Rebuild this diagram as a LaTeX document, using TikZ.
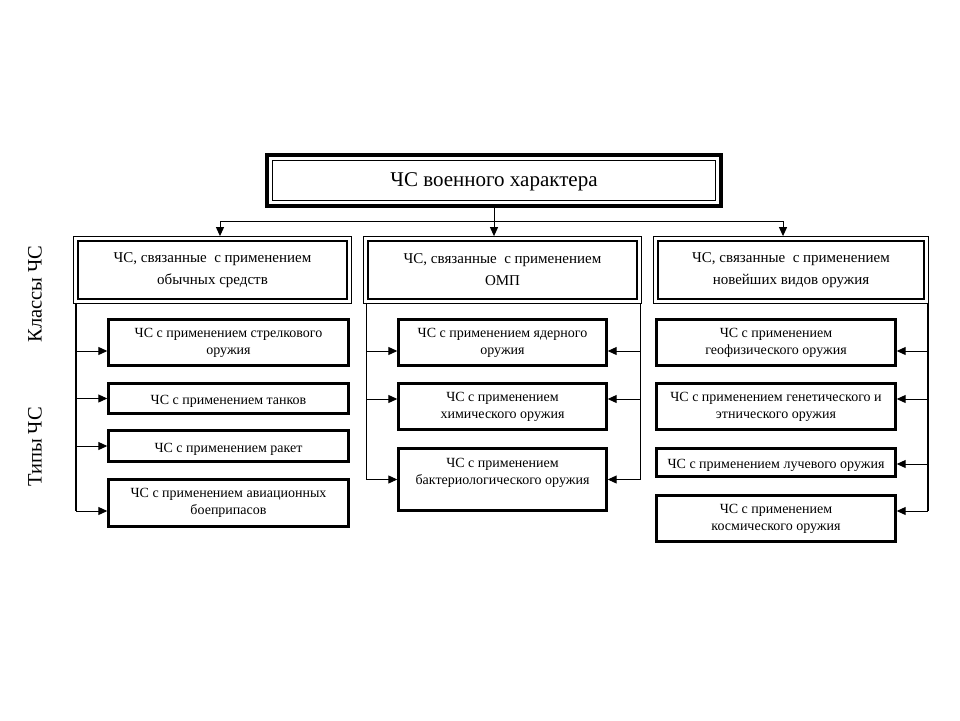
\documentclass[tikz,border=0pt]{standalone}
\usepackage{fontspec}
\setmainfont{Liberation Serif}
\usetikzlibrary{arrows.meta}
\tikzset{
rootbox/.style={draw, line width=4pt, minimum width=454pt, minimum height=51pt,
	font=\fontsize{21}{24}\selectfont},
classbox/.style={draw, line width=0.8pt, minimum width=278pt, minimum height=67pt,
	align=center, font=\fontsize{15}{22}\selectfont},
typebox/.style={draw, line width=2.4pt, align=center, inner sep=2pt,
	font=\fontsize{14}{17}\selectfont},
oneline/.style={text height=13pt, text depth=1pt},
sidelabel/.style={rotate=90, font=\fontsize{20.5}{22}\selectfont},
arr/.style={-{Triangle[length=9pt,width=8pt]}, line width=1pt},
bus/.style={line width=1pt}
}

\begin{document}
\begin{tikzpicture}[x=1pt, y=-1pt]
	\useasboundingbox (0,0) rectangle (960,720);
	% root and classes
	\node[rootbox, text depth=2pt] (root) at (494,180.5) {ЧС военного характера};
	\node[classbox] (cls1) at (212.5,270) {ЧС, связанные~ с применением\\обычных средств};
	\node[classbox] (cls2) at (502.5,270) {ЧС, связанные~ с применением\\ОМП};
	\node[classbox, minimum width=275pt] (cls3) at (791,270) {ЧС, связанные~ с применением\\новейших видов оружия};
	\draw[line width=1.5pt] ([shift={(7.5pt,-7.5pt)}]root.north west) rectangle ([shift={(-7.5pt,7.5pt)}]root.south east);
	\foreach \c in {cls1,cls2,cls3}
		\draw[line width=2.5pt] ([shift={(5pt,-5pt)}]\c.north west) rectangle ([shift={(-5pt,5pt)}]\c.south east);
	% types
	\node[typebox, minimum width=240pt, minimum height=46pt] (t11) at (228.5,342.5) {ЧС с применением стрелкового\\оружия};
	\node[typebox, oneline, minimum width=240pt, minimum height=30pt] (t12) at (228.5,398.5) {ЧС с применением танков};
	\node[typebox, oneline, minimum width=240pt, minimum height=31pt] (t13) at (228.5,446) {ЧС с применением ракет};
	\node[typebox, minimum width=240pt, minimum height=47pt] (t14) at (228.5,503) {ЧС с применением авиационных\\боеприпасов};
	\node[typebox, minimum width=208pt, minimum height=46pt] (t21) at (502.5,342.5) {ЧС с применением ядерного\\оружия};
	\node[typebox, minimum width=208pt, minimum height=46pt] (t22) at (502.5,406.5) {ЧС с применением\\химического оружия};
	\node[typebox, minimum width=208pt, minimum height=62pt] (t23) at (502.5,479.5) {ЧС с применением\\бактериологического оружия\\[-6pt]\strut};
	\node[typebox, minimum width=239pt, minimum height=46pt] (t31) at (776,342.5) {ЧС с применением\\геофизического оружия};
	\node[typebox, minimum width=239pt, minimum height=46pt] (t32) at (776,406.5) {ЧС с применением генетического и\\этнического оружия};
	\node[typebox, oneline, minimum width=239pt, minimum height=28pt] (t33) at (776,462.5) {ЧС с применением лучевого оружия};
	\node[typebox, minimum width=239pt, minimum height=46pt] (t34) at (776,518.5) {ЧС с применением\\космического оружия};
	% side labels
	\node[sidelabel] (lblcls) at (35,294) {Классы ЧС};
	\node[sidelabel] (lbltyp) at (35,447) {Типы ЧС};
	% root to classes
	\coordinate (busl) at (220,221);
	\coordinate (busr) at (783,221);
	\draw[bus] (busl) -- (busr);
	\draw[arr] (root.south) -- (root.south |- cls2.north);
	\draw[arr] (busl) -- (busl |- cls1.north);
	\draw[arr] (busr) -- (busr |- cls3.north);
	% classes to types
	\coordinate (lbus) at (76,304);
	\coordinate (mlbus) at (366,304);
	\coordinate (mrbus) at (640,304);
	\coordinate (rbus) at (928,304);
	\draw[bus, line width=1.8pt] (lbus) -- ([yshift=-8pt]t14.west -| lbus);
	\draw[bus] (mlbus) -- (t23.west -| mlbus);
	\draw[bus] (mrbus) -- (t23.east -| mrbus);
	\draw[bus, line width=1.8pt] (rbus) -- ([yshift=7.5pt]t34.east -| rbus);
	\foreach \t/\s in {t11/-8.5, t12/0, t13/0, t14/-8}
		\draw[arr] ([yshift=\s pt]\t.west -| lbus) -- ([yshift=\s pt]\t.west);
	\foreach \t/\s in {t21/-8.5, t22/7.5, t23/0}{
		\draw[arr] ([yshift=\s pt]\t.west -| mlbus) -- ([yshift=\s pt]\t.west);
		\draw[arr] ([yshift=\s pt]\t.east -| mrbus) -- ([yshift=\s pt]\t.east);
	}
	\foreach \t/\s in {t31/-8.5, t32/7.5, t33/-1.5, t34/7.5}
		\draw[arr] ([yshift=\s pt]\t.east -| rbus) -- ([yshift=\s pt]\t.east);
\end{tikzpicture}
\end{document}
